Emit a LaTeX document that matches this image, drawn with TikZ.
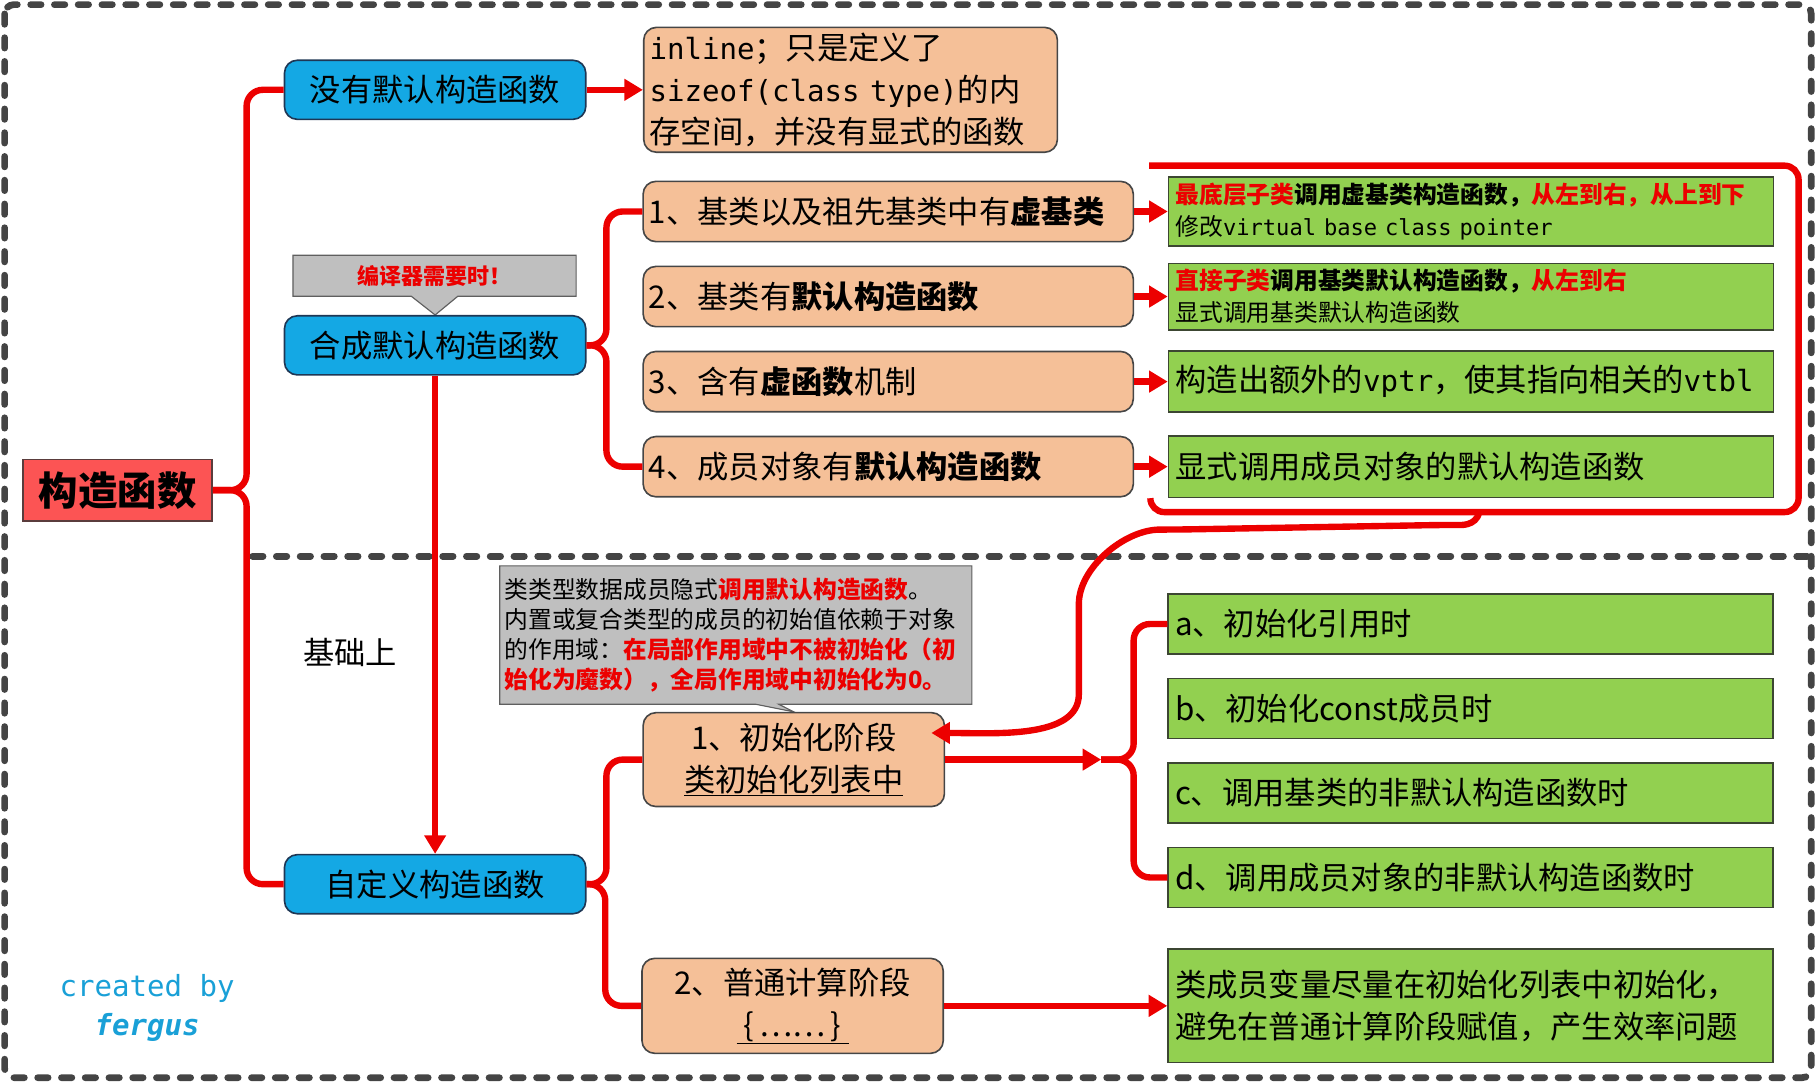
\documentclass[tikz,border=0pt]{standalone}
\usepackage{fontspec}
\setmainfont{Noto Sans CJK SC}
\setmonofont[Scale=0.93]{DejaVu Sans Mono}
\usepackage{tikz}
\usetikzlibrary{arrows.meta,positioning,backgrounds,calc}
\definecolor{cfedge}{RGB}{70,70,70}
\definecolor{cfroot}{RGB}{252,84,84}
\definecolor{cfrootedge}{RGB}{90,60,60}
\definecolor{cfblue}{RGB}{20,168,228}
\definecolor{cfblueedge}{RGB}{30,55,85}
\definecolor{cfpeach}{RGB}{245,192,152}
\definecolor{cfgreen}{RGB}{146,208,80}
\definecolor{cfgreenedge}{RGB}{60,70,50}
\definecolor{cfgray}{RGB}{191,191,191}
\definecolor{cfgrayedge}{RGB}{95,95,95}
\definecolor{cfred}{RGB}{236,0,0}
\definecolor{cfframe}{RGB}{68,68,68}
\definecolor{cfsign}{RGB}{25,160,215}
\tikzset{
  cfbox/.style={
    draw=cfedge, line width=1.4pt, inner sep=5pt, align=center,
    font=\fontsize{27}{36}\selectfont
  },
  rootbox/.style={cfbox, fill=cfroot, draw=cfrootedge, minimum width=163pt,
    minimum height=53pt, font=\bfseries\fontsize{34}{40}\selectfont},
  kind/.style={cfbox, fill=cfblue, draw=cfblueedge, rounded corners=11pt,
    minimum width=260pt, minimum height=51pt},
  cond/.style={cfbox, fill=cfpeach, rounded corners=11pt},
  item/.style={cond, minimum width=423pt, minimum height=52pt,
    text width=413pt, align=left},
  phase/.style={cond, minimum width=260pt, minimum height=81pt},
  act/.style={cfbox, fill=cfgreen, draw=cfgreenedge, inner xsep=6pt,
    text width=510pt, align=left, minimum height=52pt},
  note/.style={inner sep=4pt},
  bubble/.style={fill=cfgray, draw=cfgrayedge, line width=1pt},
  link/.style={draw=cfred, line width=5.5pt, rounded corners=14pt},
  arr/.style={link, -{Triangle[length=16pt,width=18pt]}},
  frame/.style={draw=cfframe, line width=5.8pt, line cap=round,
    dash pattern=on 9pt off 11.5pt},
  sign/.style={text=cfsign, align=center, font=\ttfamily\fontsize{27}{34}\selectfont}
}

\begin{document}
\begin{tikzpicture}[x=1pt,y=-1pt]
  \useasboundingbox (0,0) rectangle (1568,935);
  \draw[frame, rounded corners=8pt] (4,4) rectangle (1563,930);
  \draw[frame] (218,480) -- (1563,480);

  % left column
  \node[rootbox] (ctor) at (101.5,423) {构造函数};
  \node[kind] (nodef) at (375.5,77.5) {没有默认构造函数};
  \node[kind] (synth) at (375.5,298) {合成默认构造函数};
  \node[kind] (custom) at (375.5,763) {自定义构造函数};
  \node[font=\fontsize{27}{32}\selectfont] (basis) at (302,563) {基础上};
  \node[sign] (credit) at (127,870) {created by\\\textbf{\textit{fergus}}};

  % synthesized
  \node[cond, minimum width=357pt, minimum height=103pt, text width=347pt,
    align=left] (inl) at (734,77.5)
    {\texttt{inline}；只是定义了\\\texttt{sizeof(class type)}的内\\存空间，并没有显式的函数};
  \node[item] (c1) at (766.5,182.5) {1、基类以及祖先基类中有\textbf{虚基类}};
  \node[item, below=20pt of c1] (c2) {2、基类有\textbf{默认构造函数}};
  \node[item, below=20pt of c2] (c3) {3、含有\textbf{虚函数}机制};
  \node[item, below=20pt of c3] (c4) {4、成员对象有\textbf{默认构造函数}};
  \node[act, minimum height=53pt, font=\fontsize{20.5}{28}\selectfont, right=29pt of c1] (g1)
    {\textbf{{\color{cfred}最底层子类}调用虚基类构造函数，{\color{cfred}从左到右，从上到下}}\\
     修改\texttt{virtual base class pointer}};
  \node[act, minimum height=53pt, font=\fontsize{20.5}{28}\selectfont, right=29pt of c2] (g2)
    {\textbf{{\color{cfred}直接子类}调用基类默认构造函数，{\color{cfred}从左到右}}\\
     显式调用基类默认构造函数};
  \node[act, minimum height=53pt, right=29pt of c3] (g3) {构造出额外的\texttt{vptr}，使其指向相关的\texttt{vtbl}};
  \node[act, minimum height=53pt, right=29pt of c4] (g4) {显式调用成员对象的默认构造函数};

  % user defined
  \node[phase] (p1) at (685,655.5) {1、初始化阶段\\\underline{类初始化列表中}};
  \node[phase, minimum height=82pt] (p2) at (684,868) {2、普通计算阶段\\\underline{\ \{\,……\,\}\ }};
  \node[act] (ga) at (1269,538.5) {a、初始化引用时};
  \node[act, below=19.5pt of ga] (gb) {b、初始化const成员时};
  \node[act, below=19.5pt of gb] (gc) {c、调用基类的非默认构造函数时};
  \node[act, below=19.5pt of gc] (gd) {d、调用成员对象的非默认构造函数时};
  \node[act, minimum height=98pt, font=\fontsize{27}{37}\selectfont] (gfin) at (1269,868)
    {类成员变量尽量在初始化列表中初始化，\\避免在普通计算阶段赋值，产生效率问题};

  % callouts
  \node[note, minimum width=244pt, minimum height=35pt, text=cfred,
    font=\bfseries\fontsize{19}{22}\selectfont] (need) at (375,238) {编译器需要时！};
  \node[note, minimum width=407pt, minimum height=119pt, text width=399pt, align=left,
    font=\fontsize{20.5}{26}\selectfont] (initnote) at (635,548)
    {类类型数据成员隐式{\color{cfred}\bfseries 调用默认构造函数}。\\
     内置或复合类型的成员的初始值依赖于对象\\
     的作用域：{\color{cfred}\bfseries 在局部作用域中不被初始化（初}\\
     {\color{cfred}\bfseries 始化为魔数），全局作用域中初始化为0。}};
  \begin{scope}[on background layer]
    \draw[bubble] (need.north west) -- (need.north east) -- (need.south east)
      -- ([xshift=20pt]need.south) -- (synth.north) -- ([xshift=-20pt]need.south)
      -- (need.south west) -- cycle;
    \draw[bubble] (initnote.north west) -- (initnote.north east) -- (initnote.south east)
      -- ([xshift=37pt]initnote.south) -- (p1.north) -- ([xshift=17pt]initnote.south)
      -- (initnote.south west) -- cycle;
  \end{scope}

  % connectors
  \draw[link] (ctor.east) -| ([xshift=-32pt]nodef.west) -- (nodef.west);
  \draw[link] (ctor.east) -| ([xshift=-32pt]custom.west) -- (custom.west);
  \draw[arr] (nodef) -- (inl);
  \draw[arr] (synth) -- (custom);
  \draw[link] (synth.east) -| ([xshift=-31pt]c1.west) -- (c1.west);
  \draw[link] (synth.east) -| ([xshift=-31pt]c4.west) -- (c4.west);
  \foreach \p/\q in {c1/g1,c2/g2,c3/g3,c4/g4} \draw[arr] (\p) -- (\q);
  \draw[link] (custom.east) -| ([xshift=-31pt]p1.west) -- (p1.west);
  \draw[link] (custom.east) -| ([xshift=-31pt]p2.west) -- (p2.west);
  \coordinate (fork) at ([xshift=-57pt]ga.west |- p1.east);
  \draw[arr] (p1.east) -- (fork);
  \draw[link] (fork) -| ([xshift=-29pt]ga.west) -- (ga.west);
  \draw[link] (fork) -| ([xshift=-29pt]gd.west) -- (gd.west);
  \draw[arr] (p2) -- (gfin);
  % bracket round the four results
  \draw[link, rounded corners=12pt] ([xshift=-15pt]g4.south west)
    -- ([xshift=-15pt,yshift=-12pt]g4.south west) -- ([xshift=21pt,yshift=-12pt]g4.south east)
    -- ([xshift=21pt,yshift=9pt]g1.north east) -- ([xshift=-16pt,yshift=9pt]g1.north west);
  \coordinate (gtip) at ([xshift=7pt,yshift=-12pt]g4.south);
  \draw[arr] (gtip) to[out=-100,in=0] (1245,453) -- (1015,457)
    to[out=180,in=90] (931,535) -- (931,585)
    to[out=-90,in=0] ([xshift=-12pt,yshift=23pt]p1.east);
\end{tikzpicture}
\end{document}
